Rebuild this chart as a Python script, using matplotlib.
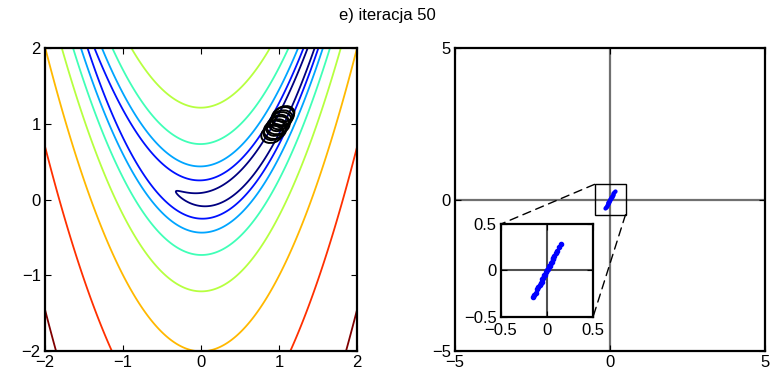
import numpy as np
import matplotlib
matplotlib.use("Agg")
import matplotlib.pyplot as plt
from matplotlib.patches import Ellipse, Rectangle, ConnectionPatch

plt.rcParams['font.family'] = ['Liberation Sans', 'DejaVu Sans']
plt.rcParams['font.size'] = 12

# contour levels of the Rosenbrock surface
levels = [1.75, 7.39, 20.1, 54.6, 148, 403, 1097, 2981]
# covariance ellipses near the optimum
ell_x = [0.91, 0.93, 0.95, 0.97, 0.99, 1.00, 1.02, 1.04, 1.05, 1.07]
ell_y = [0.86, 0.89, 0.92, 0.95, 0.98, 1.01, 1.04, 1.07, 1.10, 1.13]
ell_w = [0.28, 0.26, 0.29, 0.27, 0.30, 0.26, 0.28, 0.27, 0.29, 0.26]
ell_h = [0.22, 0.20, 0.24, 0.21, 0.23, 0.20, 0.22, 0.21, 0.23, 0.20]
ell_a = [20, 25, 15, 22, 18, 28, 20, 16, 24, 19]
# population points (right panel)
px = [-0.15, -0.14, -0.12, -0.11, -0.10, -0.08, -0.07, -0.06, -0.05, -0.04, -0.03, -0.02,
      -0.01, 0.00, 0.01, 0.02, 0.03, 0.04, 0.05, 0.06, 0.07, 0.08, 0.10, 0.11, 0.13, 0.15]
py = [-0.29, -0.26, -0.24, -0.20, -0.18, -0.16, -0.13, -0.12, -0.09, -0.08, -0.05, -0.05,
      -0.02, 0.01, 0.02, 0.05, 0.05, 0.08, 0.09, 0.12, 0.13, 0.16, 0.19, 0.21, 0.25, 0.29]

fig = plt.figure(figsize=(7.74, 3.78), dpi=100)
fig.suptitle("e) iteracja 50", y=0.98, fontsize=12)

# left: contours
ax = fig.add_axes([0.0581, 0.0714, 0.4031, 0.8016])
g = np.linspace(-2, 2, 600)
X, Y = np.meshgrid(g, g)
Z = (1 - X) ** 2 + 100 * (Y - X ** 2) ** 2
cols = plt.cm.jet(np.linspace(0, 1, len(levels)))
ax.contour(X, Y, Z, levels=levels, colors=cols, linewidths=1.3)
for x, y, w, h, a in zip(ell_x, ell_y, ell_w, ell_h, ell_a):
    ax.add_patch(Ellipse((x, y), w, h, angle=a, fill=False, ec='k', lw=1.4, zorder=5))
ax.set_xlim(-2, 2); ax.set_ylim(-2, 2)
ax.set_xticks([-2, -1, 0, 1, 2]); ax.set_yticks([-2, -1, 0, 1, 2])

# right: population
ax2 = fig.add_axes([0.5879, 0.0714, 0.4005, 0.8016])
ax2.axhline(0, color='#707070', lw=1.6, zorder=1)
ax2.axvline(0, color='#707070', lw=1.6, zorder=1)
ax2.plot(px, py, '.', color='b', ms=4, zorder=3)
ax2.add_patch(Rectangle((-0.5, -0.5), 1, 1, fill=False, ec='k', lw=1.0, zorder=2))
ax2.set_xlim(-5, 5); ax2.set_ylim(-5, 5)
ax2.set_xticks([-5, 0, 5]); ax2.set_yticks([-5, 0, 5])

ins = fig.add_axes([0.6473, 0.1614, 0.1189, 0.246])
ins.axhline(0, color='#505050', lw=1.5, zorder=1)
ins.axvline(0, color='#505050', lw=1.5, zorder=1)
ins.plot(px, py, '.', color='b', ms=6, zorder=3)
ins.set_xlim(-0.5, 0.5); ins.set_ylim(-0.5, 0.5)
ins.set_xticks([-0.5, 0, 0.5]); ins.set_yticks([-0.5, 0, 0.5])
ins.set_xticklabels(['\u22120.5', '0', '0.5']); ins.set_yticklabels(['\u22120.5', '0', '0.5'])

for a in (ax, ax2, ins):
    for s in a.spines.values():
        s.set_linewidth(1.6)
    a.tick_params(direction='in', top=True, right=True, length=4, labelsize=12, pad=3)
ins.tick_params(axis='x', pad=4)

for pa, pb in [((-0.5, 0.5), (0, 1)), ((0.5, -0.5), (1, 0))]:
    con = ConnectionPatch(xyA=pa, coordsA=ax2.transData, xyB=pb, coordsB=ins.transAxes,
                          ls=(0, (6, 4)), color='k', lw=1.0)
    fig.add_artist(con)

fig.savefig("out.png", dpi=100)
